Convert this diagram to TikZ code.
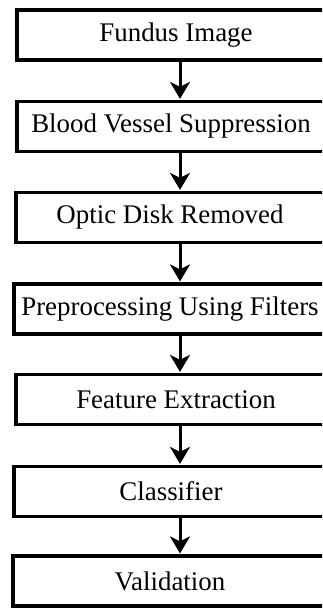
\documentclass[tikz,border=0pt]{standalone}
\usepackage{fontspec}
\setmainfont{Liberation Serif}
\usetikzlibrary{arrows.meta}
\begin{document}
\begin{tikzpicture}[x=1pt,y=-1pt,
  stepbox/.style={draw=black, line width=3.2pt, minimum height=50pt, inner sep=0pt},
  steptext/.style={inner sep=0pt, font=\fontsize{26.9}{30}\selectfont, text=black},
  arr/.style={line width=3pt, -{Stealth[length=17pt,width=20pt,inset=5pt]}}]
\useasboundingbox (0,0) rectangle (322,608);
\clip (0,0) rectangle (322,608);
\node[stepbox, minimum width=333pt] (b1) at (183.5,35) {};
\node[stepbox, minimum width=333pt] (b2) at (183.5,126.5) {};
\node[stepbox, minimum width=334pt] (b3) at (183,217.5) {};
\node[stepbox, minimum width=336pt] (b4) at (182,309) {};
\node[stepbox, minimum width=334pt] (b5) at (183,399.5) {};
\node[stepbox, minimum width=336pt] (b6) at (182,491.5) {};
\node[stepbox, minimum width=337pt] (b7) at (181.5,581) {};
\node[steptext] (t1) at (176,35) {Fundus Image};
\node[steptext] (t2) at (171,126.5) {Blood Vessel Suppression};
\node[steptext] (t3) at (170,217.5) {Optic Disk Removed};
\node[steptext] (t4) at (170,309) {Preprocessing Using Filters};
\node[steptext] (t5) at (176,399.5) {Feature Extraction};
\node[steptext] (t6) at (171,491.5) {Classifier};
\node[steptext] (t7) at (170,581) {Validation};
\coordinate (ax) at (180,0);
\draw[arr] (b1.south -| ax) -- ([yshift=1pt]b2.north -| ax);
\draw[arr] (b2.south -| ax) -- ([yshift=1pt]b3.north -| ax);
\draw[arr] (b3.south -| ax) -- ([yshift=1pt]b4.north -| ax);
\draw[arr] (b4.south -| ax) -- ([yshift=1pt]b5.north -| ax);
\draw[arr] (b5.south -| ax) -- ([yshift=1pt]b6.north -| ax);
\draw[arr] (b6.south -| ax) -- ([yshift=1pt]b7.north -| ax);
\end{tikzpicture}
\end{document}
